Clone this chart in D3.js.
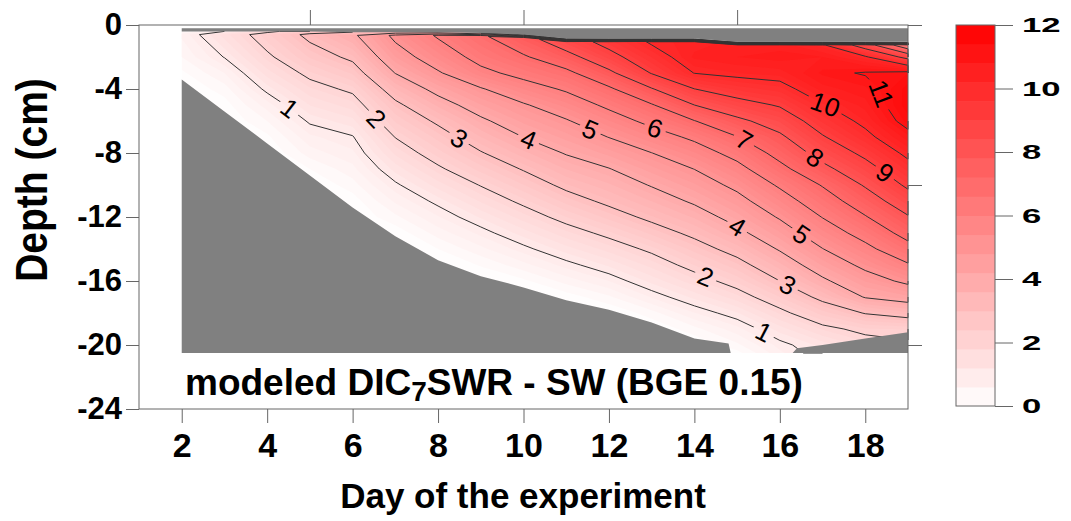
<!DOCTYPE html>
<html>
<head>
<meta charset="utf-8">
<script src="https://cdn.jsdelivr.net/npm/d3@7"></script>
<style>
  body { margin: 0; background: #fff; }
  svg { display: block; font-family: "Liberation Sans", Arial, sans-serif; }
</style>
</head>
<body>
<svg id="chart" width="1071" height="521"></svg>
<script>
// grid columns: day of the experiment
var days = [2, 3, 4, 5, 6, 7, 8, 9, 10, 11, 12, 13, 14, 15, 16, 17, 18, 19];
// sediment surface (top of the modelled column) per day, cm
var surfaceDepth = [-0.4, -0.4, -0.4, -0.4, -0.45, -0.45, -0.45, -0.5, -0.6, -0.85, -0.85, -0.85, -0.85, -1.05, -1.05, -1.05, -1.05, -1.05];
// fixed grid rows below the surface rows, cm
var gridDepths = [-2, -3, -4, -5, -6, -7, -8, -9, -10, -11, -12, -13, -14, -15, -16, -17, -18, -19, -20, -20.5];

// DIC profiles, one per day: surface, just under surface, then gridDepths
var dicProfiles = [
  [0.4, 0.65, 0.4, 0.15, 0, 0, 0, 0, 0, 0, 0, 0, 0, 0, 0, 0, 0, 0, 0, 0, 0, 0],
  [1.0, 1.5, 1.02, 0.6, 0.3, 0.1, 0, 0, 0, 0, 0, 0, 0, 0, 0, 0, 0, 0, 0, 0, 0, 0],
  [1.8, 2.35, 1.88, 1.5, 1.1, 0.7, 0.4, 0.15, 0, 0, 0, 0, 0, 0, 0, 0, 0, 0, 0, 0, 0, 0],
  [2.5, 3.2, 2.63, 2.16, 1.76, 1.41, 1.06, 0.75, 0.5, 0.2, 0, 0, 0, 0, 0, 0, 0, 0, 0, 0, 0, 0],
  [3.0, 3.85, 3.15, 2.64, 2.12, 1.71, 1.33, 0.97, 0.75, 0.53, 0.31, 0.09, 0, 0, 0, 0, 0, 0, 0, 0, 0, 0],
  [3.5, 5.2, 4.59, 4.02, 3.38, 2.84, 2.43, 2.02, 1.65, 1.28, 0.93, 0.64, 0.35, 0.06, 0, 0, 0, 0, 0, 0, 0, 0],
  [3.5, 6.1, 5.47, 4.91, 4.25, 3.66, 3.12, 2.69, 2.3, 1.9, 1.5, 1.1, 0.78, 0.49, 0.2, 0, 0, 0, 0, 0, 0, 0],
  [3.0, 6.85, 6.3, 5.77, 4.93, 4.38, 3.86, 3.4, 2.95, 2.49, 2.03, 1.63, 1.23, 0.86, 0.54, 0.22, 0, 0, 0, 0, 0, 0],
  [1.5, 7.7, 6.89, 6.28, 5.6, 4.92, 4.47, 4.01, 3.53, 3.05, 2.59, 2.13, 1.71, 1.3, 0.9, 0.53, 0.15, 0, 0, 0, 0, 0],
  [0.5, 8.5, 7.66, 6.77, 6.11, 5.5, 4.93, 4.49, 4.05, 3.61, 3.17, 2.69, 2.2, 1.74, 1.31, 0.88, 0.48, 0.08, 0, 0, 0, 0],
  [0, 9.3, 8.7, 7.8, 6.85, 6.18, 5.58, 5.02, 4.49, 3.97, 3.56, 3.16, 2.68, 2.15, 1.69, 1.24, 0.8, 0.36, 0, 0, 0, 0],
  [0, 10.1, 9.61, 9.05, 7.94, 6.93, 6.24, 5.6, 4.99, 4.52, 4.05, 3.61, 3.17, 2.66, 2.12, 1.68, 1.27, 0.82, 0.31, 0, 0, 0],
  [0, 10.3, 10.45, 10.02, 8.99, 8.0, 6.97, 6.17, 5.57, 5.01, 4.56, 4.11, 3.64, 3.17, 2.69, 2.21, 1.73, 1.26, 0.79, 0.33, 0, 0],
  [0, 10.5, 10.6, 10.2, 9.46, 8.65, 7.79, 6.97, 6.3, 5.72, 5.2, 4.73, 4.28, 3.8, 3.27, 2.75, 2.25, 1.73, 1.18, 0.72, 0.35, 0.12],
  [0, 10.5, 10.7, 10.3, 9.71, 9.08, 8.44, 7.84, 7.31, 6.74, 6.12, 5.59, 5.08, 4.57, 4.07, 3.53, 3.0, 2.4, 1.83, 1.3, 0.88, 0.75],
  [0, 10.1, 10.6, 10.85, 10.5, 9.95, 9.45, 8.93, 8.36, 7.75, 7.06, 6.54, 6.03, 5.51, 4.98, 4.43, 3.86, 3.2, 2.5, 1.83, 1.28, 1.2],
  [0, 8.5, 10.1, 11.05, 10.75, 10.5, 10.2, 9.78, 9.21, 8.65, 8.09, 7.52, 6.94, 6.34, 5.76, 5.2, 4.62, 4.05, 3.04, 2.17, 1.7, 1.7],
  [0, 6.2, 8.7, 11.2, 11.5, 11.55, 11.3, 10.73, 10.2, 9.68, 9.16, 8.56, 7.93, 7.33, 6.67, 5.91, 5.18, 4.34, 3.33, 2.22, 1.9, 1.9]
];

// lower limit of the modelled column (grey area below)
var floorDays = [2, 3, 4, 5, 6, 7, 8, 9, 10, 11, 12, 13, 14, 14.8, 14.85, 16.3, 16.4, 17, 18, 19];
var floorDepths = [-3.4, -5.4, -7.4, -9.4, -11.4, -13.2, -14.7, -15.7, -16.4, -17.2, -17.8, -18.6, -19.6, -19.9, -20.5, -20.5, -20.2, -20.0, -19.6, -19.2];

var levels = [1, 2, 3, 4, 5, 6, 7, 8, 9, 10, 11];
var labelLevels = [1, 1, 2, 2, 3, 3, 4, 4, 5, 5, 6, 7, 8, 9, 10, 11];
var labelDays = [4.49, 15.65, 6.52, 14.25, 8.47, 16.17, 10.11, 15.0, 11.56, 16.47, 13.08, 15.14, 16.82, 18.42, 17.06, 18.28];
var labelDepths = [-5.31, -19.06, -5.94, -15.81, -7.19, -16.31, -7.19, -12.63, -6.56, -13.25, -6.44, -7.31, -8.31, -9.38, -5.0, -4.38];

var xTicks = [2, 4, 6, 8, 10, 12, 14, 16, 18];
var yTicks = [0, -4, -8, -12, -16, -20, -24];
var topTicks = [5, 10, 15];
var rightTicks = [0, -10, -20];
var barTicks = [0, 2, 4, 6, 8, 10, 12];

var svg = d3.select("#chart");
var font = "'Liberation Sans', Arial, sans-serif";
var axisColor = "#666";
var grey = "#808080";

var x = d3.scaleLinear().domain([1, 19]).range([139, 908]);
var y = d3.scaleLinear().domain([0, -24]).range([25, 409]);
var color = d3.scaleLinear().domain([0, 12]).range(["#ffffff", "#ff0000"]);

var nx = days.length, ny = dicProfiles[0].length;
var values = new Array(nx * ny);
for (var j = 0; j < ny; j++) {
  for (var i = 0; i < nx; i++) values[j * nx + i] = dicProfiles[i][j];
}

function nodeDepth(i, j) {
  if (j === 0) return surfaceDepth[i];
  if (j === 1) return surfaceDepth[i] - 0.2;
  return gridDepths[j - 2];
}

// contour coords (cell centres at +0.5) -> screen, on the curvilinear grid
function project(p) {
  var fi = Math.max(0, Math.min(nx - 1, p[0] - 0.5));
  var fj = Math.max(0, Math.min(ny - 1, p[1] - 0.5));
  var i0 = Math.min(Math.floor(fi), nx - 2), tx = fi - i0;
  var j0 = Math.min(Math.floor(fj), ny - 2), ty = fj - j0;
  var top = nodeDepth(i0, j0) * (1 - tx) + nodeDepth(i0 + 1, j0) * tx;
  var bot = nodeDepth(i0, j0 + 1) * (1 - tx) + nodeDepth(i0 + 1, j0 + 1) * tx;
  var day = days[i0] + (days[i0 + 1] - days[i0]) * tx;
  return [x(day), y(top * (1 - ty) + bot * ty)];
}

function ringPath(ring) {
  return "M" + ring.map(function(p) {
    var q = project(p);
    return q[0].toFixed(2) + "," + q[1].toFixed(2);
  }).join("L") + "Z";
}

// split a ring into open lines, dropping pieces that run along the grid edge
function ringLines(ring) {
  var out = [], cur = [];
  function onEdge(a, b) {
    return (a[0] === 0 && b[0] === 0) || (a[0] === nx && b[0] === nx) ||
           (a[1] === 0 && b[1] === 0) || (a[1] === ny && b[1] === ny);
  }
  for (var k = 0; k < ring.length - 1; k++) {
    var a = ring[k], b = ring[k + 1];
    if (onEdge(a, b)) {
      if (cur.length > 1) out.push(cur);
      cur = [];
    } else {
      if (!cur.length) cur.push(a);
      cur.push(b);
    }
  }
  if (cur.length > 1) out.push(cur);
  return out;
}

// filled field
var bands = d3.contours().size([nx, ny]).thresholds(d3.range(0, 12, 0.2))(values);
svg.append("g").selectAll("path")
  .data(bands)
  .enter().append("path")
  .attr("d", function(c) {
    return c.coordinates.map(function(poly) { return poly.map(ringPath).join(""); }).join("");
  })
  .attr("fill", function(c) { return color(c.value + 0.1); })
  .attr("fill-rule", "evenodd");

// isolines
var levelLines = {};
d3.contours().size([nx, ny]).thresholds(levels)(values).forEach(function(c) {
  var list = [];
  c.coordinates.forEach(function(poly) {
    poly.forEach(function(ring) {
      ringLines(ring).forEach(function(l) { list.push(l.map(project)); });
    });
  });
  levelLines[c.value] = list;
});

var defs = svg.append("defs");
var gapMask = defs.append("mask").attr("id", "gaps")
  .attr("maskUnits", "userSpaceOnUse")
  .attr("x", 0).attr("y", 0).attr("width", 1071).attr("height", 521);
gapMask.append("rect").attr("width", 1071).attr("height", 521).attr("fill", "#fff");

var lineLayer = svg.append("g")
  .attr("mask", "url(#gaps)")
  .attr("fill", "none")
  .attr("stroke", "#333")
  .attr("stroke-width", 1);
var line = d3.line();
levels.forEach(function(lv) {
  (levelLines[lv] || []).forEach(function(l) {
    lineLayer.append("path").attr("d", line(l));
  });
});

// grey: above the surface and below the floor
var topStrip = d3.area()
  .x(function(d, i) { return x(days[i]); })
  .y0(y(-0.2))
  .y1(function(d) { return y(d); });
svg.append("path").datum(surfaceDepth).attr("d", topStrip).attr("fill", grey);

var floorArea = d3.area()
  .x(function(d, i) { return x(floorDays[i]); })
  .y0(y(-20.5))
  .y1(function(d) { return y(d); });
svg.append("path").datum(floorDepths).attr("d", floorArea).attr("fill", grey);

// contour labels sit on their line, turned along it
function nearest(lines, p) {
  var best = null;
  lines.forEach(function(l) {
    for (var k = 0; k < l.length - 1; k++) {
      var a = l[k], b = l[k + 1];
      var dx = b[0] - a[0], dy = b[1] - a[1], len2 = dx * dx + dy * dy;
      var t = len2 ? Math.max(0, Math.min(1, ((p[0] - a[0]) * dx + (p[1] - a[1]) * dy) / len2)) : 0;
      var qx = a[0] + t * dx, qy = a[1] + t * dy;
      var d = (qx - p[0]) * (qx - p[0]) + (qy - p[1]) * (qy - p[1]);
      if (len2 > 1 && (!best || d < best.d)) best = { d: d, x: qx, y: qy, angle: Math.atan2(dy, dx) * 180 / Math.PI };
    }
  });
  return best;
}

var labelLayer = svg.append("g");
labelLevels.forEach(function(lv, k) {
  var p = [x(labelDays[k]), y(labelDepths[k])];
  var hit = nearest(levelLines[lv] || [], p) || { x: p[0], y: p[1], angle: 0 };
  var a = hit.angle;
  if (a > 90) a -= 180;
  if (a < -90) a += 180;
  var tr = "translate(" + hit.x + "," + hit.y + ") rotate(" + a + ")";
  var t = labelLayer.append("text")
    .attr("transform", tr)
    .attr("text-anchor", "middle")
    .attr("dominant-baseline", "central")
    .attr("font-family", font)
    .attr("font-size", 26)
    .attr("fill", "#000")
    .text(lv);
  var w = t.node().getComputedTextLength() + 8;
  gapMask.append("rect")
    .attr("transform", tr)
    .attr("x", -w / 2).attr("y", -12)
    .attr("width", w).attr("height", 24)
    .attr("fill", "#000");
});

// frame and axes
svg.append("rect")
  .attr("x", 139).attr("y", 25)
  .attr("width", 908 - 139).attr("height", 409 - 25)
  .attr("fill", "none").attr("stroke", axisColor);

function styleAxis(g, size) {
  g.select(".domain").remove();
  g.selectAll("line").attr("stroke", axisColor);
  g.selectAll("text")
    .attr("font-family", font)
    .attr("font-size", size)
    .attr("font-weight", "bold")
    .attr("fill", "#000");
}

svg.append("g")
  .attr("transform", "translate(139,0)")
  .call(d3.axisLeft(y).tickValues(yTicks).tickSize(13).tickPadding(4).tickSizeOuter(0)
    .tickFormat(function(d) { return String(d); }))
  .call(styleAxis, 31);

svg.append("g")
  .attr("transform", "translate(0,409)")
  .call(d3.axisBottom(x).tickValues(xTicks).tickSize(14).tickPadding(10).tickSizeOuter(0))
  .call(styleAxis, 34);

svg.append("g")
  .attr("transform", "translate(0,25)")
  .call(d3.axisTop(x).tickValues(topTicks).tickSize(15).tickSizeOuter(0).tickFormat(""))
  .call(styleAxis, 10);

svg.append("g")
  .attr("transform", "translate(908,0)")
  .call(d3.axisRight(y).tickValues(rightTicks).tickSize(14).tickSizeOuter(0).tickFormat(""))
  .call(styleAxis, 10);

// axis titles and plot title
svg.append("text")
  .attr("x", 523).attr("y", 508)
  .attr("text-anchor", "middle")
  .attr("font-family", font).attr("font-size", 35).attr("font-weight", "bold")
  .text("Day of the experiment");

svg.append("text")
  .attr("transform", "translate(47,180) rotate(-90) scale(1,1.13)")
  .attr("text-anchor", "middle")
  .attr("font-family", font).attr("font-size", 39).attr("font-weight", "bold")
  .text("Depth (cm)");

var title = svg.append("text")
  .attr("x", 185).attr("y", 395)
  .attr("font-family", font).attr("font-size", 37).attr("font-weight", "bold");
title.append("tspan").text("modeled DIC");
title.append("tspan").attr("font-size", 28).attr("dy", 6).text("7");
title.append("tspan").attr("dy", -6).text("SWR - SW (BGE 0.15)");

// colour bar
var cy = d3.scaleLinear().domain([0, 12]).range([406, 25]);
var barSteps = d3.range(0, 12, 0.6);
var bar = svg.append("g");
bar.selectAll("rect")
  .data(barSteps)
  .enter().append("rect")
  .attr("x", 956).attr("width", 39)
  .attr("y", function(d) { return cy(Math.min(12, d + 0.6)); })
  .attr("height", function(d) { return cy(d) - cy(Math.min(12, d + 0.6)) + 0.5; })
  .attr("fill", function(d) { return color(d + 0.3); });
bar.append("rect")
  .attr("x", 956).attr("y", cy(12))
  .attr("width", 39).attr("height", cy(0) - cy(12))
  .attr("fill", "none").attr("stroke", axisColor);

svg.append("g")
  .attr("transform", "translate(995,0)")
  .call(d3.axisRight(cy).tickValues(barTicks).tickSize(18).tickPadding(9).tickSizeOuter(0))
  .call(styleAxis, 21)
  .selectAll("text")
  .each(function() {
    var w = this.getComputedTextLength();
    d3.select(this).attr("textLength", w * 1.65).attr("lengthAdjust", "spacingAndGlyphs");
  });
</script>
</body>
</html>
